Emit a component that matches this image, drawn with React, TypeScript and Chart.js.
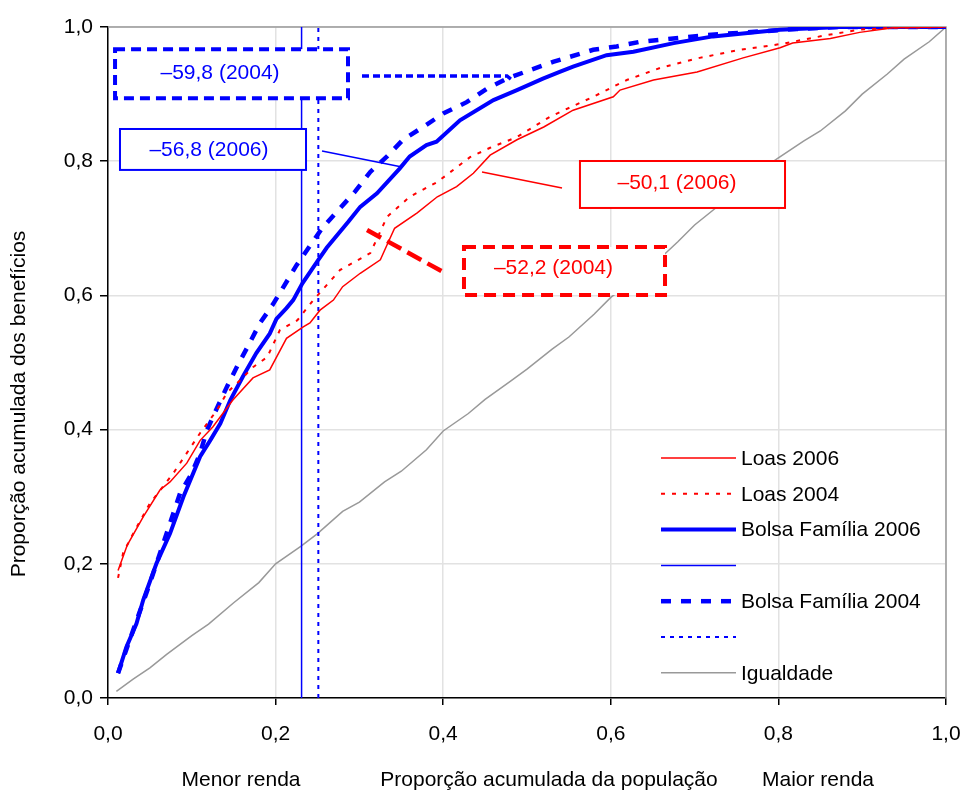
import React, { useEffect, useRef } from "react";
import { Chart, registerables } from "chart.js";

Chart.register(...registerables);

// ---------- DATA ----------
const loas2006X = [0.012, 0.023, 0.042, 0.062, 0.074, 0.094, 0.11, 0.125, 0.149, 0.173, 0.193, 0.213, 0.233, 0.241, 0.253, 0.269, 0.28, 0.301, 0.325, 0.334, 0.342, 0.369, 0.393, 0.416, 0.436, 0.456, 0.488, 0.52, 0.555, 0.603, 0.611, 0.651, 0.703, 0.758, 0.802, 0.817, 0.862, 0.897, 0.937, 1.0];
const loas2006Y = [0.19, 0.228, 0.27, 0.31, 0.322, 0.35, 0.384, 0.404, 0.444, 0.477, 0.489, 0.536, 0.553, 0.559, 0.578, 0.593, 0.613, 0.633, 0.653, 0.678, 0.7, 0.723, 0.747, 0.762, 0.782, 0.809, 0.832, 0.851, 0.876, 0.896, 0.906, 0.921, 0.933, 0.954, 0.969, 0.976, 0.983, 0.992, 0.999, 1.0];

const loas2004X = [0.012, 0.018, 0.03, 0.05, 0.078, 0.094, 0.11, 0.13, 0.142, 0.158, 0.173, 0.19, 0.205, 0.226, 0.245, 0.277, 0.313, 0.333, 0.36, 0.393, 0.432, 0.456, 0.488, 0.527, 0.579, 0.619, 0.659, 0.706, 0.754, 0.805, 0.858, 0.897, 0.937, 1.0];
const loas2004Y = [0.179, 0.216, 0.245, 0.29, 0.335, 0.365, 0.395, 0.429, 0.455, 0.474, 0.493, 0.508, 0.548, 0.563, 0.593, 0.638, 0.663, 0.717, 0.747, 0.769, 0.806, 0.82, 0.836, 0.866, 0.896, 0.921, 0.939, 0.954, 0.966, 0.975, 0.988, 0.996, 0.999, 1.0];

const bolsa2006X = [0.012, 0.022, 0.034, 0.042, 0.058, 0.074, 0.09, 0.11, 0.122, 0.134, 0.146, 0.161, 0.177, 0.193, 0.201, 0.213, 0.221, 0.232, 0.251, 0.261, 0.287, 0.301, 0.321, 0.348, 0.36, 0.38, 0.392, 0.42, 0.46, 0.488, 0.519, 0.539, 0.555, 0.595, 0.627, 0.675, 0.722, 0.802, 0.873, 1.0];
const bolsa2006Y = [0.037, 0.076, 0.111, 0.146, 0.201, 0.245, 0.3, 0.36, 0.384, 0.409, 0.444, 0.479, 0.514, 0.543, 0.565, 0.581, 0.593, 0.618, 0.653, 0.671, 0.71, 0.732, 0.752, 0.789, 0.807, 0.824, 0.829, 0.861, 0.891, 0.906, 0.923, 0.933, 0.941, 0.958, 0.963, 0.976, 0.986, 0.996, 1.0, 1.0];

const bolsa2004X = [0.012, 0.03, 0.05, 0.068, 0.086, 0.1, 0.11, 0.118, 0.13, 0.142, 0.154, 0.169, 0.181, 0.197, 0.225, 0.24, 0.256, 0.277, 0.295, 0.313, 0.333, 0.352, 0.376, 0.4, 0.428, 0.452, 0.476, 0.504, 0.531, 0.579, 0.607, 0.635, 0.714, 0.822, 0.874, 1.0];
const bolsa2004Y = [0.037, 0.101, 0.171, 0.238, 0.305, 0.335, 0.365, 0.399, 0.432, 0.464, 0.494, 0.529, 0.558, 0.587, 0.645, 0.672, 0.701, 0.73, 0.755, 0.784, 0.807, 0.832, 0.851, 0.871, 0.888, 0.908, 0.923, 0.936, 0.948, 0.966, 0.971, 0.978, 0.988, 0.997, 1.0, 1.0];

const igualdadeX = [0.01, 0.03, 0.05, 0.07, 0.1, 0.12, 0.15, 0.18, 0.2, 0.23, 0.25, 0.28, 0.3, 0.33, 0.35, 0.38, 0.4, 0.43, 0.45, 0.48, 0.5, 0.53, 0.55, 0.58, 0.6, 0.63, 0.65, 0.68, 0.7, 0.73, 0.75, 0.78, 0.8, 0.83, 0.85, 0.88, 0.9, 0.93, 0.95, 0.98, 1.0];
const igualdadeY = [0.01, 0.028, 0.045, 0.065, 0.093, 0.11, 0.142, 0.172, 0.2, 0.226, 0.245, 0.278, 0.292, 0.322, 0.338, 0.37, 0.398, 0.424, 0.445, 0.472, 0.49, 0.52, 0.538, 0.572, 0.597, 0.625, 0.645, 0.68, 0.705, 0.735, 0.76, 0.788, 0.805, 0.83, 0.845, 0.875, 0.9, 0.93, 0.952, 0.978, 1.0];

// vertical reference lines (x position = share of population)
const vline2006X = 0.231;
const vline2004X = 0.251;

const seriesLabels = ["Loas 2006", "Loas 2004", "Bolsa Família 2006", "", "Bolsa Família 2004", "", "Igualdade"];
const tickValues = [0, 0.2, 0.4, 0.6, 0.8, 1.0];
const yTitle = "Proporção acumulada dos benefícios";
const xTitleParts = ["Menor renda", "Proporção acumulada da população", "Maior renda"];
const gapValues = [-59.8, -56.8, -50.1, -52.2];
const gapYears = [2004, 2006, 2006, 2004];

// ---------- HELPERS ----------
const FONT = "Arial, 'Liberation Sans', sans-serif";
const fmt = (v: number) => v.toFixed(1).replace(".", ",");
const gapText = (i: number) => "\u2013" + Math.abs(gapValues[i]).toFixed(1).replace(".", ",") + " (" + gapYears[i] + ")";
const pts = (xs: number[], ys: number[]) => xs.map((x, i) => ({ x, y: ys[i] }));

const RED = "#FF0000";
const BLUE = "#0000FF";
const GRAY = "#999999";

const frame = {
  id: "frame",
  beforeDatasetsDraw(chart: any) {
    const { ctx, chartArea: a } = chart;
    ctx.save();
    ctx.strokeStyle = "#9a9a9a";
    ctx.lineWidth = 1.5;
    ctx.beginPath();
    ctx.moveTo(a.left, a.top);
    ctx.lineTo(a.right, a.top);
    ctx.lineTo(a.right, a.bottom);
    ctx.stroke();
    ctx.restore();
  },
};

const annotations = {
  id: "annots",
  afterDatasetsDraw(chart: any) {
    const { ctx, scales } = chart;
    const X = (v: number) => scales.x.getPixelForValue(v);
    const Y = (v: number) => scales.y.getPixelForValue(v);
    ctx.save();
    const line = (p: number[][], color: string, w: number, dash: number[]) => {
      ctx.beginPath();
      ctx.strokeStyle = color;
      ctx.lineWidth = w;
      ctx.setLineDash(dash);
      p.forEach(([a, b], i) => (i === 0 ? ctx.moveTo(X(a), Y(b)) : ctx.lineTo(X(a), Y(b))));
      ctx.stroke();
    };
    const box = (x0: number, y0: number, x1: number, y1: number, color: string, w: number, dash: number[], text: string, tx: number, ty: number) => {
      const l = X(x0), t = Y(y0), r = X(x1), b = Y(y1);
      ctx.setLineDash([]);
      ctx.fillStyle = "#fff";
      ctx.fillRect(l, t, r - l, b - t);
      ctx.strokeStyle = color;
      ctx.lineWidth = w;
      ctx.setLineDash(dash);
      ctx.strokeRect(l, t, r - l, b - t);
      ctx.setLineDash([]);
      ctx.fillStyle = color;
      ctx.font = "21px " + FONT;
      ctx.textAlign = "center";
      ctx.textBaseline = "middle";
      ctx.fillText(text, X(tx), Y(ty));
    };
    // connectors
    line([[0.3031, 0.927], [0.4761, 0.927], [0.482, 0.921]], BLUE, 3.5, [7, 4]);
    line([[0.2554, 0.8152], [0.3508, 0.7914]], BLUE, 1.5, []);
    line([[0.4463, 0.7839], [0.5418, 0.76]], RED, 1.5, []);
    line([[0.3091, 0.6975], [0.3998, 0.6349]], RED, 4.5, [16, 7]);
    // boxes
    box(0.0084, 0.967, 0.2864, 0.894, BLUE, 4, [10, 6], gapText(0), 0.1337, 0.9307);
    box(0.0143, 0.848, 0.2363, 0.787, BLUE, 2, [], gapText(1), 0.1205, 0.8167);
    box(0.5632, 0.8003, 0.8079, 0.7303, RED, 2, [], gapText(2), 0.679, 0.7675);
    box(0.4248, 0.6721, 0.6647, 0.6006, RED, 4, [12, 7], gapText(3), 0.5316, 0.641);
    ctx.restore();
  },
};

const customLegend = {
  id: "customLegend",
  afterDraw(chart: any) {
    const { ctx } = chart;
    ctx.save();
    chart.data.datasets.forEach((ds: any, i: number) => {
      const yy = 458 + i * 35.8;
      ctx.beginPath();
      ctx.strokeStyle = ds.borderColor;
      ctx.lineWidth = ds.borderWidth;
      ctx.setLineDash(ds.borderDash || []);
      ctx.moveTo(661, yy);
      ctx.lineTo(736, yy);
      ctx.stroke();
      ctx.setLineDash([]);
      ctx.fillStyle = "#000";
      ctx.font = "21px " + FONT;
      ctx.textAlign = "left";
      ctx.textBaseline = "middle";
      ctx.fillText(ds.label, 741, yy + 1);
    });
    ctx.restore();
  },
};

const titles = {
  id: "titles",
  afterDraw(chart: any) {
    const { ctx } = chart;
    ctx.save();
    ctx.fillStyle = "#000";
    ctx.font = "21px " + FONT;
    ctx.textAlign = "center";
    ctx.textBaseline = "alphabetic";
    ctx.fillText(xTitleParts[0], 241, 786);
    ctx.fillText(xTitleParts[1], 549, 786);
    ctx.fillText(xTitleParts[2], 818, 786);
    ctx.translate(25, 404);
    ctx.rotate(-Math.PI / 2);
    ctx.fillText(yTitle, 0, 0);
    ctx.restore();
  },
};

export default function App() {
  const ref = useRef<HTMLCanvasElement>(null);
  useEffect(() => {
    document.body.style.margin = "0";
    Chart.defaults.font.family = FONT;
    const chart = new Chart(ref.current as HTMLCanvasElement, {
      type: "line",
      data: {
        datasets: [
          { label: seriesLabels[0], data: pts(loas2006X, loas2006Y), borderColor: RED, borderWidth: 1.5, borderDash: [] },
          { label: seriesLabels[1], data: pts(loas2004X, loas2004Y), borderColor: RED, borderWidth: 2, borderDash: [4, 7] },
          { label: seriesLabels[2], data: pts(bolsa2006X, bolsa2006Y), borderColor: BLUE, borderWidth: 4, borderDash: [] },
          { label: seriesLabels[3], data: [{ x: vline2006X, y: 0 }, { x: vline2006X, y: 1 }], borderColor: BLUE, borderWidth: 1.5, borderDash: [] },
          { label: seriesLabels[4], data: pts(bolsa2004X, bolsa2004Y), borderColor: BLUE, borderWidth: 4.5, borderDash: [10, 10] },
          { label: seriesLabels[5], data: [{ x: vline2004X, y: 0 }, { x: vline2004X, y: 1 }], borderColor: BLUE, borderWidth: 2, borderDash: [4, 5] },
          { label: seriesLabels[6], data: pts(igualdadeX, igualdadeY), borderColor: GRAY, borderWidth: 1.5, borderDash: [] },
        ] as any,
      },
      options: {
        responsive: false,
        animation: false,
        parsing: false as any,
        elements: { point: { radius: 0, hoverRadius: 0 }, line: { tension: 0, fill: false } },
        layout: { padding: { top: 27, right: 17, left: 0, bottom: 0 } },
        plugins: { legend: { display: false }, tooltip: { enabled: false } },
        scales: {
          x: {
            type: "linear",
            min: 0,
            max: 1,
            afterBuildTicks: (s: any) => { s.ticks = tickValues.map((v) => ({ value: v })); },
            ticks: { callback: (v: any) => fmt(Number(v)), color: "#000", font: { size: 21 }, padding: 17, maxRotation: 0, autoSkip: false },
            grid: { color: "#e2e2e2", lineWidth: 1.5, tickLength: 7, tickColor: "#000", tickWidth: 1.5 },
            border: { color: "#000", width: 1.5 },
            afterFit: (s: any) => { s.height = 92; s.paddingLeft = 0; s.paddingRight = 0; },
          },
          y: {
            type: "linear",
            min: 0,
            max: 1,
            afterBuildTicks: (s: any) => { s.ticks = tickValues.map((v) => ({ value: v })); },
            ticks: { callback: (v: any) => fmt(Number(v)), color: "#000", font: { size: 21 }, padding: 7, autoSkip: false },
            grid: { color: "#e2e2e2", lineWidth: 1.5, tickLength: 8, tickColor: "#000", tickWidth: 1.5 },
            border: { color: "#000", width: 1.5 },
            afterFit: (s: any) => { s.width = 108; s.paddingTop = 0; s.paddingBottom = 0; },
          },
        },
      },
      plugins: [frame, annotations, customLegend, titles],
    } as any);
    return () => chart.destroy();
  }, []);
  return <canvas ref={ref} width={963} height={790} style={{ display: "block", width: 963, height: 790 }} />;
}
